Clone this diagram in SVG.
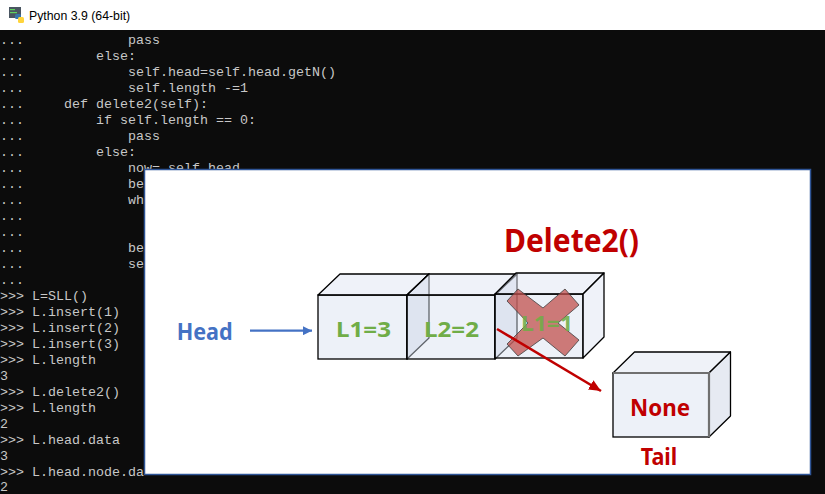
<svg xmlns="http://www.w3.org/2000/svg" width="825" height="494" viewBox="0 0 825 494">
<defs>
<style>
.con{font-family:"Liberation Mono","DejaVu Sans Mono",monospace;font-size:13.33px;fill:#c8c8c8}
.lbl{font-family:"Noto Sans","Open Sans","Liberation Sans",sans-serif;font-weight:700}
.front{fill:#d6dff0;fill-opacity:.45;stroke:#000;stroke-width:1.3}
.top{fill:#dfe6f3;fill-opacity:.5;stroke:#000;stroke-width:1.3;stroke-linejoin:round}
.side{fill:#b8c4dc;fill-opacity:.4;stroke:#000;stroke-width:1.3;stroke-linejoin:round}
.grn{fill:#70ad47;font-size:21.5px}
.red{fill:#c00000}
</style>
<marker id="ab" viewBox="0 0 10 10" refX="10" refY="5" markerWidth="9" markerHeight="9" markerUnits="userSpaceOnUse" orient="auto"><path d="M0,0L10,5L0,10z" fill="#4472c4"/></marker>
<marker id="ar" viewBox="0 0 10 10" refX="10" refY="5" markerWidth="12" markerHeight="12" markerUnits="userSpaceOnUse" orient="auto"><path d="M0,0.5L10,5L0,9.5z" fill="#c00000"/></marker>
</defs>
<!-- window -->
<rect x="0" y="0" width="825" height="30" fill="#ffffff"/>
<rect x="0" y="30" width="825" height="464" fill="#0c0c0c"/>
<g id="icon">
<rect x="9" y="7" width="12" height="11" fill="#4a5662"/>
<rect x="10" y="9" width="5" height="1.2" fill="#5fd35f"/>
<rect x="10" y="12" width="7" height="1.2" fill="#5fd35f"/>
<rect x="15" y="14" width="6" height="5" rx="1.5" fill="#3776ab"/>
<rect x="18" y="17" width="6" height="6" rx="1.5" fill="#ffd43b"/>
</g>
<text x="29" y="20" font-family="Liberation Sans, Arial, sans-serif" font-size="12.3" fill="#000">Python 3.9 (64-bit)</text>
<!-- console text -->
<g class="con">
<text x="0" y="44">...</text><text x="128" y="44">pass</text>
<text x="0" y="60">...</text><text x="96" y="60">else:</text>
<text x="0" y="76">...</text><text x="128" y="76">self.head=self.head.getN()</text>
<text x="0" y="92">...</text><text x="128" y="92">self.length -=1</text>
<text x="0" y="108">...</text><text x="64" y="108">def delete2(self):</text>
<text x="0" y="124">...</text><text x="96" y="124">if self.length == 0:</text>
<text x="0" y="140">...</text><text x="128" y="140">pass</text>
<text x="0" y="156">...</text><text x="96" y="156">else:</text>
<text x="0" y="172">...</text><text x="128" y="172">now= self.head</text>
<text x="0" y="188">...</text><text x="128" y="188">be</text>
<text x="0" y="204">...</text><text x="128" y="204">wh</text>
<text x="0" y="220">...</text>
<text x="0" y="236">...</text>
<text x="0" y="252">...</text><text x="128" y="252">be</text>
<text x="0" y="268">...</text><text x="128" y="268">se</text>
<text x="0" y="284">...</text>
<text x="0" y="300">&gt;&gt;&gt; L=SLL()</text>
<text x="0" y="316">&gt;&gt;&gt; L.insert(1)</text>
<text x="0" y="332">&gt;&gt;&gt; L.insert(2)</text>
<text x="0" y="348">&gt;&gt;&gt; L.insert(3)</text>
<text x="0" y="364">&gt;&gt;&gt; L.length</text>
<text x="0" y="380">3</text>
<text x="0" y="396">&gt;&gt;&gt; L.delete2()</text>
<text x="0" y="412">&gt;&gt;&gt; L.length</text>
<text x="0" y="428">2</text>
<text x="0" y="444">&gt;&gt;&gt; L.head.data</text>
<text x="0" y="460">3</text>
<text x="0" y="476">&gt;&gt;&gt; L.head.node.da</text>
<text x="0" y="490.5">2</text>
</g>
<!-- overlay panel -->
<rect x="144.5" y="169.5" width="666" height="305" fill="#ffffff" stroke="#2f5597" stroke-width="1.5"/>
<g id="title">
<text class="lbl red" x="571.5" y="251.5" font-size="32" text-anchor="middle" textLength="135" lengthAdjust="spacingAndGlyphs">Delete2()</text>
</g>
<g id="head">
<text class="lbl" x="204.7" y="340" font-size="24" fill="#4472c4" text-anchor="middle" textLength="56" lengthAdjust="spacingAndGlyphs">Head</text>
</g>
<g id="node1">
<rect class="front" x="318" y="295" width="89" height="64"/>
<polygon class="top" points="318,295 340,274 429,274 407,295"/>
<polygon class="side" points="407,295 429,274 429,338 407,359"/>
<text class="lbl grn" x="363.5" y="337.3" text-anchor="middle" textLength="55" lengthAdjust="spacingAndGlyphs">L1=3</text>
</g>
<g id="node2">
<rect class="front" x="407" y="295" width="88" height="64"/>
<polygon class="top" points="407,295 429,274 517,274 495,295"/>
<polygon class="side" points="495,295 517,274 517,338 495,359"/>
<text class="lbl grn" x="451.5" y="337.3" text-anchor="middle" textLength="55" lengthAdjust="spacingAndGlyphs">L2=2</text>
</g>
<g id="node3">
<rect class="front" x="495" y="294" width="88" height="64"/>
<polygon class="top" points="495,294 516,273 604,273 583,294"/>
<polygon class="side" points="583,294 604,273 604,337 583,358" style="fill:#dfe6f3;fill-opacity:.5"/>
<polygon points="507,301 518,289 543,308 565,289 579,305 558,323 579,340 565,356 543,338 518,356 507,344 528,323" fill="#c0504d" fill-opacity=".75" stroke="#404040" stroke-width=".8" stroke-linejoin="round"/>
<text class="lbl grn" x="547" y="330.7" text-anchor="middle" textLength="52" lengthAdjust="spacingAndGlyphs" fill-opacity=".9">L1=1</text>
</g>
<g id="tail">
<rect x="613" y="373" width="96" height="64" fill="#edf1f8" stroke="#000" stroke-width="1.3"/>
<polygon points="613,373 634.5,352 730.5,352 709,373" fill="#eff2f8" stroke="#000" stroke-width="1.3" stroke-linejoin="round"/>
<polygon points="709,373 730.5,352 730.5,416 709,437" fill="#e6eaf2" stroke="#000" stroke-width="1.3" stroke-linejoin="round"/>
<path d="M613,373H709V437" fill="none" stroke="#707070" stroke-width="2.2"/>
<text class="lbl red" x="660" y="416" font-size="23" text-anchor="middle" textLength="60" lengthAdjust="spacingAndGlyphs">None</text>
<text class="lbl red" x="659" y="465" font-size="23" text-anchor="middle" textLength="36.6" lengthAdjust="spacingAndGlyphs">Tail</text>
</g>
<g id="connectors">
<line x1="250" y1="330.7" x2="312" y2="330.7" stroke="#4472c4" stroke-width="2.2" marker-end="url(#ab)"/>
<line x1="497" y1="329" x2="601" y2="391" stroke="#c00000" stroke-width="2.6" marker-end="url(#ar)"/>
</g>
</svg>
